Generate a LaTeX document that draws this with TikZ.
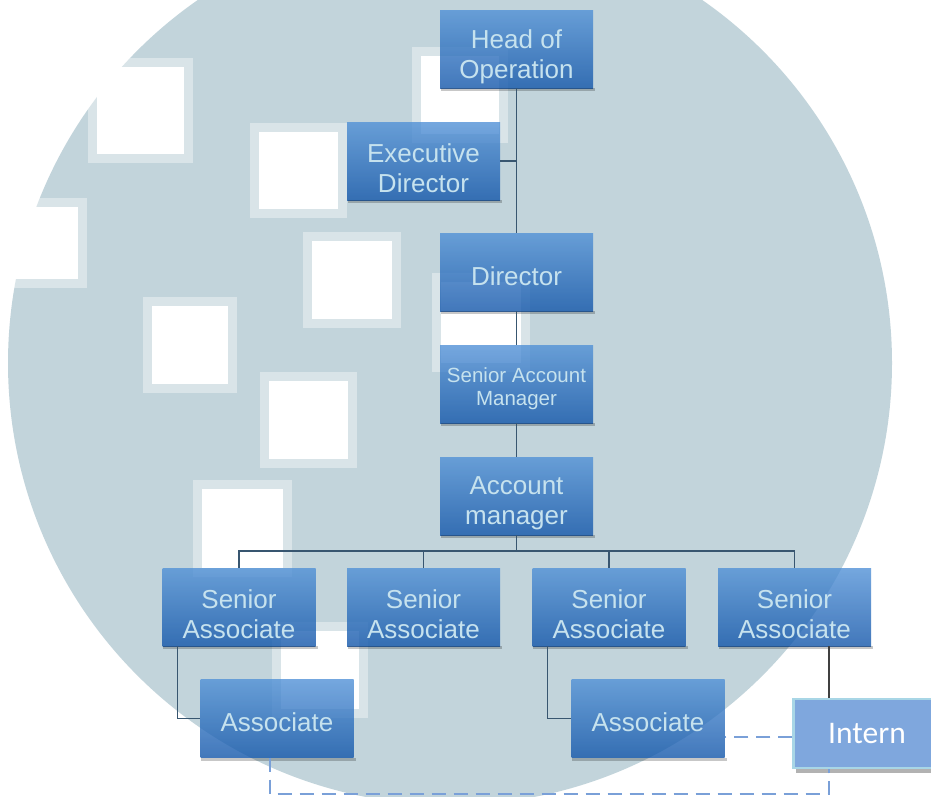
\documentclass[tikz,border=0pt]{standalone}
\usepackage{fontspec}
\setmainfont{Liberation Sans}
\newfontfamily\calib{Carlito}
\newcommand\orgbox[5]{%
  \node[bx] (#1) at #2 {};
  \node[#3, yshift=#4] (#1t) at (#1) {#5};}
\begin{document}
\begin{tikzpicture}[x=1pt,y=-1pt,
  bx/.style={rectangle, minimum width=153pt, minimum height=78pt, inner sep=0pt,
    top color=boxtop, bottom color=boxbot, fill opacity=0.78},
  bigtxt/.style={text=boxtext, align=center, inner sep=0pt, font=\fontsize{26}{30}\selectfont},
  smalltxt/.style={text=boxtext, align=center, inner sep=0pt, font=\fontsize{20.5}{23}\selectfont},
  conn/.style={draw=connc, line width=1.6pt},
  dashc/.style={draw=dashcol, line width=2pt, dash pattern=on 14pt off 8pt},
  shad/.style={fill=black, opacity=0.22},
  sqrim/.style={fill=white, opacity=0.38},
  sqin/.style={fill=white}]
\definecolor{bgc}{HTML}{C2D4DB}
\definecolor{boxtop}{HTML}{4E8FD6}
\definecolor{boxbot}{HTML}{0D52A8}
\definecolor{boxtext}{HTML}{C6E2EE}
\definecolor{connc}{HTML}{385670}
\definecolor{dashcol}{HTML}{7AA0D8}
\definecolor{interncol}{HTML}{7FA7DD}
\definecolor{internborder}{HTML}{A8D6E6}
\useasboundingbox (0,0) rectangle (931,796);
\clip (0,0) rectangle (931,796);
\fill[white] (0,0) rectangle (931,796);
% background disc
\fill[bgc] (450,363) circle[radius=442];
% white squares
\foreach \a/\b/\c/\d in {88/58/193/163, -5/198/87/288, 250/123/347/218, 303/232/401/328,
  143/297/237/393, 260/372/357/468, 193/480/292/577, 412/47/508/143, 432/273/530/372, 272/622/368/718}{
  \fill[sqrim] (\a,\b) rectangle (\c,\d);
  \fill[sqin] (\a+9,\b+9) rectangle (\c-9,\d-9);
}
% boxes
\orgbox{head}{(516.5,49)}{bigtxt}{-8pt}{Head of\\Operation}
\orgbox{exec}{(423.5,161)}{bigtxt}{-7pt}{Executive\\Director}
\orgbox{dir}{(516.5,272)}{bigtxt}{-4pt}{Director}
\orgbox{sam}{(516.5,384)}{smalltxt}{-5pt}{Senior Account\\Manager}
\orgbox{am}{(516.5,496)}{bigtxt}{-7pt}{Account\\manager}
\orgbox{sa1}{(239,607)}{bigtxt}{-7pt}{Senior\\Associate}
\orgbox{sa2}{(423.5,607)}{bigtxt}{-7pt}{Senior\\Associate}
\orgbox{sa3}{(609,607)}{bigtxt}{-7pt}{Senior\\Associate}
\orgbox{sa4}{(794.5,607)}{bigtxt}{-7pt}{Senior\\Associate}
\orgbox{as1}{(277,718.5)}{bigtxt}{-4pt}{Associate}
\orgbox{as2}{(648,718.5)}{bigtxt}{-4pt}{Associate}
% shadows under boxes
\foreach \n in {head,exec,dir,sam,am,sa1,sa2,sa3,sa4,as1,as2}{
  \fill[shad] ([xshift=1pt]\n.south west) rectangle ([xshift=2pt,yshift=-3pt]\n.south east);
}
% intern
\fill[black!30] (796,767) rectangle (940,773);
\node[rectangle, minimum width=147pt, minimum height=69pt, inner sep=0pt,
  fill=interncol, draw=internborder, line width=2.5pt, text=white,
  font=\calib\fontsize{31.5}{34}\selectfont] (intern) at (867,733.5) {Intern};
% connectors
\draw[conn] (head.south) -- (dir.north);
\draw[conn] (exec.east) -- (exec.east -| head.south);
\draw[conn] (dir.south) -- (sam.north);
\draw[conn] (sam.south) -- (am.north);
\coordinate (bus) at (516.5,551);
\draw[conn] (am.south) -- (bus);
\draw[conn] (sa1.north) -- (sa1.north |- bus) -- (sa4.north |- bus) -- (sa4.north);
\draw[conn] (sa2.north) -- (sa2.north |- bus);
\draw[conn] (sa3.north) -- (sa3.north |- bus);
\draw[conn] ([xshift=15pt]sa1.south west) |- (as1.west);
\draw[conn] ([xshift=15pt]sa3.south west) |- (as2.west);
\coordinate (k) at ([xshift=34.5pt]sa4.south);
\draw[draw=black!75, line width=1.6pt] (k) -- (k |- intern.north);
% dashed links
\draw[dashc] ([yshift=-3pt]intern.west) -- ([yshift=-3pt]intern.west -| as2.east);
\coordinate (bl) at (270,794);
\draw[dashc] (bl |- as1.south) -- (bl) -- (k |- bl) -- (k |- intern.south);
\end{tikzpicture}
\end{document}
